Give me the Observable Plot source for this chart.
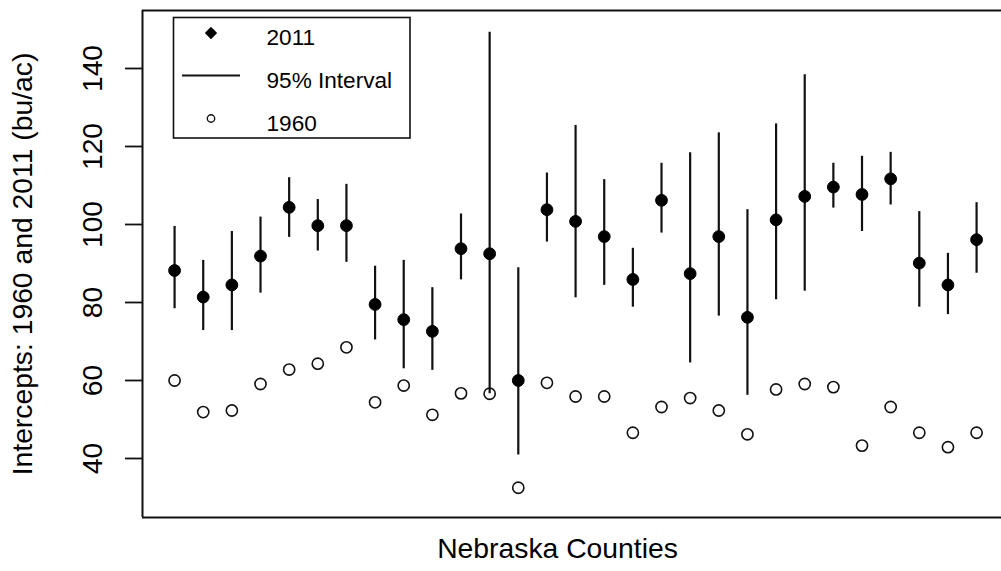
<!DOCTYPE html>
<html>
<head>
<meta charset="utf-8">
<script src="https://cdn.jsdelivr.net/npm/d3@7"></script>
<script src="https://cdn.jsdelivr.net/npm/@observablehq/plot@0.6"></script>
<style>
  html, body { margin: 0; padding: 0; background: #fff; }
  #wrap { position: relative; width: 1001px; height: 571px; overflow: hidden; }
  #legend { position: absolute; left: 0; top: 0; pointer-events: none; }
  text { font-family: "Liberation Sans", Arial, sans-serif; }
</style>
</head>
<body>
<div id="wrap"></div>
<script>
// County index (29 Nebraska counties, unlabeled in the original)
const counties = d3.range(1, 30);
// 2011 intercept estimates (bu/ac)
const est2011 = [88.2, 81.4, 84.5, 91.9, 104.4, 99.7, 99.7, 79.5, 75.6, 72.6, 93.8, 92.5, 60.0, 103.8, 100.8, 96.9, 85.9, 106.2, 87.4, 96.9, 76.2, 101.2, 107.2, 109.6, 107.7, 111.7, 90.1, 84.5, 96.1];
// 95% interval bounds for 2011
const lower2011 = [78.4, 72.8, 72.8, 82.4, 96.7, 93.2, 90.3, 70.4, 63.0, 62.6, 85.8, 56.6, 40.9, 95.5, 81.2, 84.4, 78.8, 97.8, 64.5, 76.5, 56.2, 80.7, 82.9, 104.2, 98.2, 105.0, 78.8, 76.9, 87.5];
const upper2011 = [99.5, 90.8, 98.2, 101.9, 112.0, 106.4, 110.3, 89.3, 90.8, 83.8, 102.7, 149.3, 88.9, 113.2, 125.4, 111.5, 93.9, 115.7, 118.4, 123.5, 103.8, 125.8, 138.4, 115.7, 117.5, 118.5, 103.3, 92.6, 105.6];
// 1960 intercept estimates
const est1960 = [60.0, 51.9, 52.3, 59.1, 62.8, 64.3, 68.5, 54.4, 58.7, 51.2, 56.7, 56.6, 32.5, 59.4, 55.9, 55.9, 46.6, 53.2, 55.5, 52.3, 46.2, 57.7, 59.1, 58.3, 43.3, 53.2, 46.6, 42.9, 46.6];
// Axis ticks and labels
const yTicks = [40, 60, 80, 100, 120, 140];
const xDomain = [-0.12, 29.87];
const yDomain = [24.87, 154.87];
const xTitle = "Nebraska Counties";
const yTitle = "Intercepts: 1960 and 2011 (bu/ac)";
const legendLabels = ["2011", "95% Interval", "1960"];

const data = counties.map((c, i) => ({
  county: c, est: est2011[i], lo: lower2011[i], hi: upper2011[i], old: est1960[i]
}));

const ink = "#111";
const fs = 28.3;

const chart = Plot.plot({
  width: 1001,
  height: 571,
  marginLeft: 142,
  marginRight: 0,
  marginTop: 10,
  marginBottom: 54,
  style: { fontFamily: "Liberation Sans, Arial, sans-serif", fontSize: fs + "px", background: "white", color: "black" },
  x: { domain: xDomain, axis: null },
  y: { domain: yDomain },
  marks: [
    Plot.axisY({ ticks: yTicks, tickSize: 17, tickPadding: 24, tickRotate: -90, fontSize: fs, strokeWidth: 1.8, stroke: ink, fill: "black", label: null, tickFormat: d => String(d) }),
    Plot.ruleY([yDomain[0], yDomain[1]], { stroke: ink, strokeWidth: 2 }),
    Plot.ruleX([xDomain[0]], { stroke: ink, strokeWidth: 2 }),
    Plot.ruleX(data, { x: "county", y1: "lo", y2: "hi", stroke: ink, strokeWidth: 2.2 }),
    Plot.dot(data, { x: "county", y: "old", r: 5.6, stroke: ink, strokeWidth: 1.6, fill: "none" }),
    Plot.dot(data, { x: "county", y: "est", r: 5.9, fill: "black", stroke: "black", strokeWidth: 1 }),
    Plot.text([xTitle], { text: d => d, frameAnchor: "bottom", dy: 40, dx: -14.5, fontSize: fs, fill: "black" }),
    Plot.text([yTitle], { text: d => d, frameAnchor: "left", textAnchor: "middle", rotate: -90, dx: -119.6, fontSize: fs, fill: "black" })
  ]
});

const wrap = document.getElementById("wrap");
wrap.appendChild(chart);

// Legend (R-style boxed legend, top-left inside the plot region)
const lg = d3.select(wrap).append("svg")
  .attr("id", "legend").attr("width", 1001).attr("height", 571);
lg.append("rect").attr("x", 173.5).attr("y", 17.5).attr("width", 236.5).attr("height", 120.5)
  .attr("fill", "white").attr("stroke", ink).attr("stroke-width", 1.6);
const symX = 211, rowY = [33, 75.5, 118.5], textX = 266.5, baseY = [45, 88.3, 131];
lg.append("path")
  .attr("d", `M${symX},${rowY[0]-5.2}L${symX+5.2},${rowY[0]}L${symX},${rowY[0]+5.2}L${symX-5.2},${rowY[0]}Z`)
  .attr("fill", "black").attr("stroke", "black").attr("stroke-width", 1.4).attr("stroke-linejoin", "round");
lg.append("line").attr("x1", 182).attr("x2", 240).attr("y1", rowY[1]).attr("y2", rowY[1])
  .attr("stroke", ink).attr("stroke-width", 2);
lg.append("circle").attr("cx", symX).attr("cy", rowY[2]).attr("r", 3.7)
  .attr("fill", "none").attr("stroke", ink).attr("stroke-width", 1.4);
lg.selectAll("text.lab").data(legendLabels).join("text").attr("class", "lab")
  .attr("x", textX).attr("y", (d, i) => baseY[i])
  .attr("font-size", 22.6).attr("fill", "black").text(d => d);
</script>
</body>
</html>
